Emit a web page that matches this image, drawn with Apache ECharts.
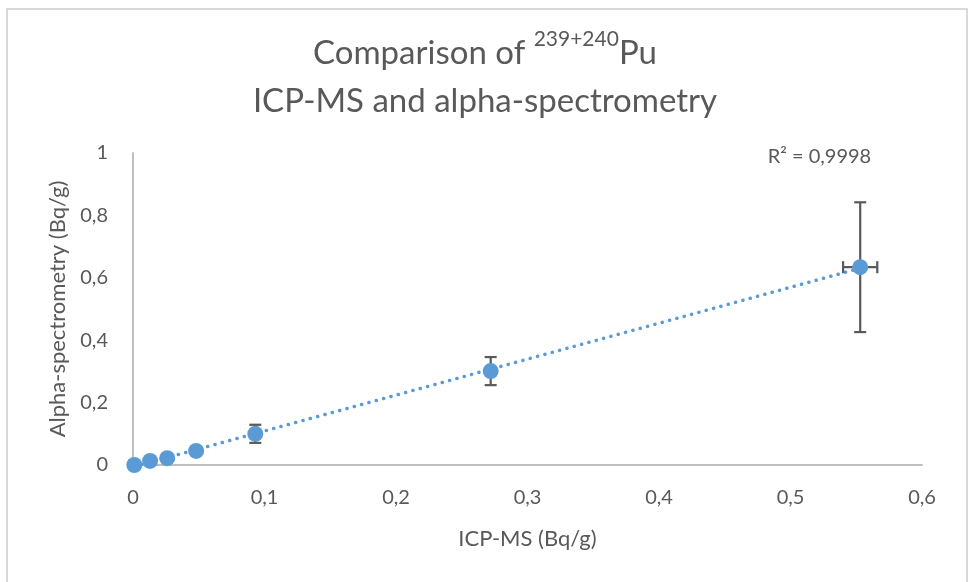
<!DOCTYPE html>
<html>
<head>
<meta charset="utf-8">
<script src="https://cdn.jsdelivr.net/npm/echarts@6/dist/echarts.min.js"></script>
<style>
html,body{margin:0;padding:0;background:#fff;}
#chart{width:970px;height:582px;}
</style>
</head>
<body>
<div id="chart"></div>
<script>
// Data
var icpMs      = [0.001, 0.013, 0.026, 0.048, 0.093, 0.272, 0.553];
var alphaSpec  = [0.000, 0.013, 0.022, 0.045, 0.100, 0.301, 0.634];
var alphaErr   = [0.000, 0.000, 0.000, 0.006, 0.029, 0.045, 0.208];
var icpErr     = [0.000, 0.000, 0.000, 0.000, 0.000, 0.000, 0.013];
var xTicks = ['0', '0,1', '0,2', '0,3', '0,4', '0,5', '0,6'];
var yTicks = ['0', '0,2', '0,4', '0,6', '0,8', '1'];
var r2Label = 'R² = 0,9998';

var FONT = 'Lato';
var TXT = '#595959';
var BLUE = '#5B9BD5';

// linear least-squares trendline from the data
var n = icpMs.length, sx = 0, sy = 0, sxx = 0, sxy = 0;
for (var i = 0; i < n; i++) { sx += icpMs[i]; sy += alphaSpec[i]; sxx += icpMs[i]*icpMs[i]; sxy += icpMs[i]*alphaSpec[i]; }
var slope = (n*sxy - sx*sy) / (n*sxx - sx*sx);
var icept = (sy - slope*sx) / n;
var xMin = Math.min.apply(null, icpMs), xMax = Math.max.apply(null, icpMs);
var trend = [[xMin, icept + slope*xMin], [xMax, icept + slope*xMax]];

var points = icpMs.map(function (x, i) { return [x, alphaSpec[i]]; });
var errData = icpMs.map(function (x, i) { return [x, alphaSpec[i], alphaErr[i], icpErr[i]]; });

var chart = echarts.init(document.getElementById('chart'));
chart.setOption({
  animation: false,
  backgroundColor: '#fff',
  title: {
    left: 'center',
    top: 24,
    text: '{a|Comparison of }{s|239+240}{a|Pu}\n{a|ICP-MS and alpha-spectrometry}',
    textStyle: {
      fontWeight: 'normal',
      rich: {
        a: { fontFamily: FONT, fontSize: 33, fontWeight: 'normal', color: TXT, lineHeight: 48 },
        s: { fontFamily: FONT, fontSize: 21, fontWeight: 'normal', color: TXT, lineHeight: 42, verticalAlign: 'top' }
      }
    }
  },
  grid: { left: 133, right: 48, top: 153, bottom: 117, containLabel: false },
  xAxis: {
    type: 'value', min: 0, max: 0.6, interval: 0.1,
    name: 'ICP-MS (Bq/g)', nameLocation: 'middle', nameGap: 63,
    nameTextStyle: { fontFamily: FONT, fontSize: 22, color: TXT },
    axisLine: { show: true, lineStyle: { color: '#bfbfbf', width: 2 } },
    axisTick: { show: false },
    splitLine: { show: false },
    axisLabel: { fontFamily: FONT, fontSize: 20, color: TXT, margin: 23,
      formatter: function (v) { return xTicks[Math.round(v*10)]; } }
  },
  yAxis: {
    type: 'value', min: 0, max: 1, interval: 0.2,
    name: 'Alpha-spectrometry (Bq/g)', nameLocation: 'middle', nameGap: 60,
    nameTextStyle: { fontFamily: FONT, fontSize: 22, color: TXT },
    axisLine: { show: true, lineStyle: { color: '#bfbfbf', width: 2 } },
    axisTick: { show: false },
    splitLine: { show: false },
    axisLabel: { fontFamily: FONT, fontSize: 20, color: TXT, margin: 25,
      formatter: function (v) { return yTicks[Math.round(v*5)]; } }
  },
  graphic: [
    { type: 'rect', shape: { x: 7, y: 9, width: 960, height: 600 }, style: { fill: 'none', stroke: '#d9d9d9', lineWidth: 2 }, z: 100, silent: true }
  ],
  series: [
    {
      type: 'line', data: trend, symbol: 'none', z: 2, silent: true,
      lineStyle: { color: BLUE, width: 3.5, type: [0.1, 7.5], cap: 'round' },
      markPoint: {
        symbol: 'rect', symbolSize: 1,
        itemStyle: { color: 'rgba(0,0,0,0)' },
        data: [{ coord: [0.522, 0.99], value: r2Label }],
        label: { show: true, position: 'inside', formatter: r2Label, fontFamily: FONT, fontSize: 20, color: TXT }
      }
    },
    {
      type: 'custom', z: 3, silent: true,
      data: errData,
      renderItem: function (params, api) {
        var x = api.value(0), y = api.value(1), ey = api.value(2), ex = api.value(3);
        var ch = [];
        var st = { stroke: '#595959', lineWidth: 2.2 };
        var cap = 6;
        if (ey > 0) {
          var top = api.coord([x, y + ey]), bot = api.coord([x, y - ey]);
          ch.push({ type: 'line', shape: { x1: top[0], y1: top[1], x2: bot[0], y2: bot[1] }, style: st });
          ch.push({ type: 'line', shape: { x1: top[0]-cap, y1: top[1], x2: top[0]+cap, y2: top[1] }, style: st });
          ch.push({ type: 'line', shape: { x1: bot[0]-cap, y1: bot[1], x2: bot[0]+cap, y2: bot[1] }, style: st });
        }
        if (ex > 0) {
          var l = api.coord([x - ex, y]), r = api.coord([x + ex, y]);
          ch.push({ type: 'line', shape: { x1: l[0], y1: l[1], x2: r[0], y2: r[1] }, style: st });
          ch.push({ type: 'line', shape: { x1: l[0], y1: l[1]-cap, x2: l[0], y2: l[1]+cap }, style: st });
          ch.push({ type: 'line', shape: { x1: r[0], y1: r[1]-cap, x2: r[0], y2: r[1]+cap }, style: st });
        }
        return { type: 'group', children: ch };
      }
    },
    {
      type: 'scatter', data: points, z: 4, silent: true,
      symbol: 'circle', symbolSize: 16,
      itemStyle: { color: BLUE, opacity: 1 }
    }
  ]
});
</script>
</body>
</html>
